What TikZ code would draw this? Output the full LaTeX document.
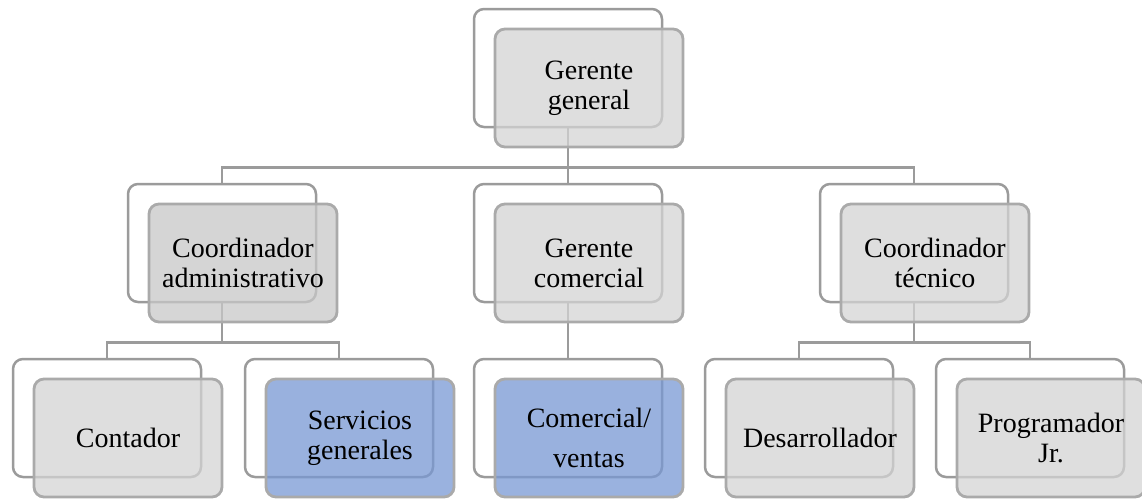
\documentclass[tikz,border=0pt]{standalone}
\usepackage{fontspec}
\setmainfont{Liberation Serif}
\usetikzlibrary{backgrounds}
\definecolor{linegray}{RGB}{155,155,155}
\definecolor{boxgray}{RGB}{212,212,212}
\definecolor{boxdark}{RGB}{200,200,200}
\definecolor{boxblue}{RGB}{120,152,212}

\begin{document}
\begin{tikzpicture}[x=1pt, y=-1pt,
  backbox/.style={draw=linegray, line width=2.5pt, fill=white, rounded corners=10pt,
    minimum width=188pt, minimum height=118pt},
  frontbox/.style={draw=linegray!85!white, line width=2.8pt, fill=boxgray, fill opacity=0.75,
    text opacity=1, rounded corners=10pt, minimum width=188pt, minimum height=118pt,
    align=center, font=\fontsize{28}{30}\selectfont},
  link/.style={draw=linegray, line width=2.5pt}]

\useasboundingbox (0,0) rectangle (1142,498);

% frames behind
\node[backbox] (ggb) at (568,68) {};
\node[backbox] (cab) at (222,243) {};
\node[backbox] (gcb) at (568,243) {};
\node[backbox] (ctb) at (914,243) {};
\node[backbox] (conb) at (107,418) {};
\node[backbox] (sgb) at (339,418) {};
\node[backbox] (cvb) at (568,418) {};
\node[backbox] (desb) at (799,418) {};
\node[backbox] (pjb) at (1030,418) {};

% boxes in front
\node[frontbox] (gg) at (589,88) {Gerente\\general};
\node[frontbox, fill=boxdark] (ca) at (243,263) {Coordinador\\administrativo};
\node[frontbox] (gc) at (589,263) {Gerente\\comercial};
\node[frontbox] (ct) at (935,263) {Coordinador\\técnico};
\node[frontbox] (con) at (128,438) {Contador};
\node[frontbox, fill=boxblue] (sg) at (360,438) {Servicios\\generales};
\node[frontbox, fill=boxblue] (cv) at (589,438) {Comercial/\\[10pt]ventas};
\node[frontbox] (des) at (820,438) {Desarrollador};
\node[frontbox] (pj) at (1051,438) {Programador\\Jr.};

\begin{scope}[on background layer]
\draw[link] (ggb.south) -- ++(0,39) -| (cab.north);
\draw[link] (ggb.south) -- ++(0,39) -| (ctb.north);
\draw[link] (ggb.south) -- (gcb.north);
\draw[link] (cab.south) -- ++(0,39) -| (conb.north);
\draw[link] (cab.south) -- ++(0,39) -| (sgb.north);
\draw[link] (gcb.south) -- (cvb.north);
\draw[link] (ctb.south) -- ++(0,39) -| (desb.north);
\draw[link] (ctb.south) -- ++(0,39) -| (pjb.north);
\end{scope}

\end{tikzpicture}
\end{document}
